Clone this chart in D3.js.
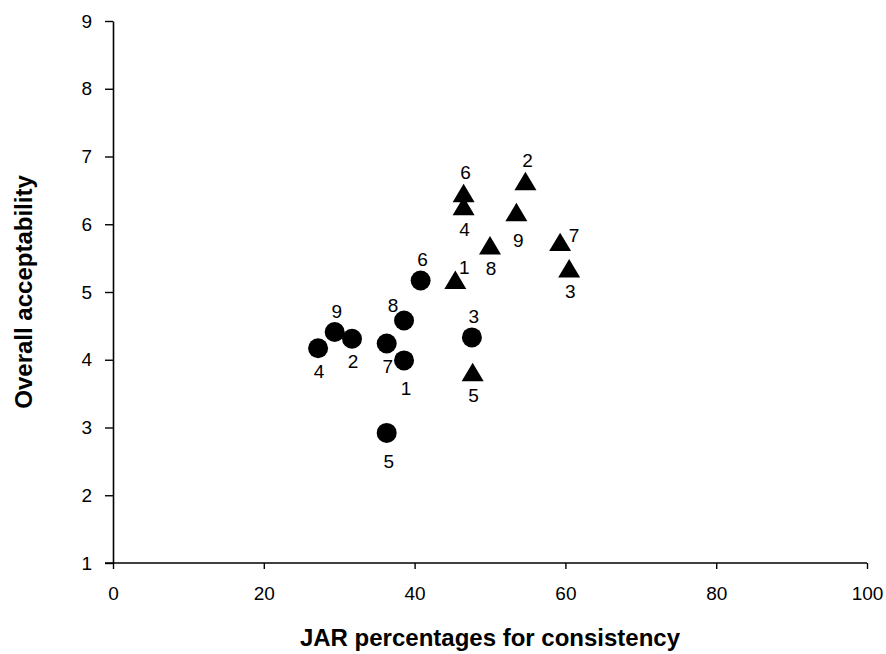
<!DOCTYPE html>
<html>
<head>
<meta charset="utf-8">
<script src="https://cdn.jsdelivr.net/npm/d3@7"></script>
<style>
  html, body { margin: 0; padding: 0; background: #fff; }
  svg { display: block; font-family: Arial, "Liberation Sans", sans-serif; }
</style>
</head>
<body>
<svg id="chart" width="886" height="654"></svg>
<script>
// Samples 1-9, two groups: circles and triangles
const circleIds = ["1", "2", "3", "4", "5", "6", "7", "8", "9"];
const circleJAR = [38.6, 31.7, 47.6, 27.2, 36.3, 40.8, 36.3, 38.6, 29.4];
const circleAcc = [3.99, 4.31, 4.33, 4.17, 2.92, 5.17, 4.24, 4.58, 4.41];
const circleLabelPos = ["b2", "b", "t", "b", "b2", "t", "b", "tl", "t"];

const triangleIds = ["1", "2", "3", "4", "5", "6", "7", "8", "9"];
const triangleJAR = [45.4, 54.7, 60.5, 46.5, 47.7, 46.5, 59.3, 50.0, 53.5];
const triangleAcc = [5.18, 6.64, 5.35, 6.27, 3.82, 6.46, 5.74, 5.69, 6.18];
const triangleLabelPos = ["tr", "t", "b", "b", "b", "t", "r", "b", "b2"];

const xTicks = [0, 20, 40, 60, 80, 100];
const yTicks = [1, 2, 3, 4, 5, 6, 7, 8, 9];
const xTitle = "JAR percentages for consistency";
const yTitle = "Overall acceptability";

const svg = d3.select("#chart");
const margin = { left: 113, right: 19, top: 21, bottom: 91 };
const W = 886, H = 654;

const x = d3.scaleLinear().domain([0, 100]).range([margin.left, W - margin.right]);
const y = d3.scaleLinear().domain([1, 9]).range([H - margin.bottom, margin.top]);

// Axes
const xAxis = svg.append("g")
  .attr("transform", `translate(0,${y(1)})`)
  .call(d3.axisBottom(x).tickValues(xTicks).tickSize(6).tickPadding(18).tickSizeOuter(0));
const yAxis = svg.append("g")
  .attr("transform", `translate(${x(0)},0)`)
  .call(d3.axisLeft(y).tickValues(yTicks).tickSize(8).tickPadding(13).tickSizeOuter(0));

[xAxis, yAxis].forEach(g => {
  g.select(".domain").attr("stroke", "#000").attr("stroke-width", 1.6);
  g.selectAll(".tick line").attr("stroke", "#000").attr("stroke-width", 1.4);
  g.selectAll(".tick text")
    .attr("fill", "#000")
    .style("font-size", "19px")
    .style("font-family", "Arial, 'Liberation Sans', sans-serif");
});
// extend the x-axis line under the leftmost y tick
xAxis.select(".domain").attr("d", `M${x(0) - 8},0H${x(100)}`);

// Axis titles
svg.append("text")
  .attr("x", (x(0) + x(100)) / 2)
  .attr("y", 646)
  .attr("text-anchor", "middle")
  .style("font-size", "24px")
  .style("font-weight", "bold")
  .text(xTitle);

svg.append("text")
  .attr("transform", `translate(32,${(y(1) + y(9)) / 2}) rotate(-90)`)
  .attr("text-anchor", "middle")
  .style("font-size", "24px")
  .style("font-weight", "bold")
  .text(yTitle);

// label placement relative to the marker centre
const labelOffset = {
  t: [2, -21],
  b: [1, 23],
  b2: [2, 28],
  tl: [-11, -15],
  tr: [9, -12],
  r: [14, -7]
};

const circles = circleIds.map((id, i) => ({ id, jar: circleJAR[i], acc: circleAcc[i], pos: circleLabelPos[i] }));
const triangles = triangleIds.map((id, i) => ({ id, jar: triangleJAR[i], acc: triangleAcc[i], pos: triangleLabelPos[i] }));

const circleSym = d3.symbol().type(d3.symbolCircle).size(Math.PI * 10 * 10);
const triSize = 22; // base width in px
const triPath = `M0,${-triSize * 0.42}L${triSize / 2},${triSize * 0.42}L${-triSize / 2},${triSize * 0.42}Z`;

const marks = svg.append("g");
marks.selectAll("path.circle")
  .data(circles)
  .join("path")
  .attr("class", "circle")
  .attr("d", circleSym)
  .attr("transform", d => `translate(${x(d.jar)},${y(d.acc)})`)
  .attr("fill", "#000");

marks.selectAll("path.tri")
  .data(triangles)
  .join("path")
  .attr("class", "tri")
  .attr("d", triPath)
  .attr("transform", d => `translate(${x(d.jar)},${y(d.acc)})`)
  .attr("fill", "#000");

const labels = svg.append("g")
  .style("font-size", "19px")
  .attr("text-anchor", "middle");

labels.selectAll("text")
  .data(circles.concat(triangles))
  .join("text")
  .attr("x", d => x(d.jar) + labelOffset[d.pos][0])
  .attr("y", d => y(d.acc) + labelOffset[d.pos][1])
  .attr("dy", "0.35em")
  .attr("fill", "#000")
  .text(d => d.id);
</script>
</body>
</html>
